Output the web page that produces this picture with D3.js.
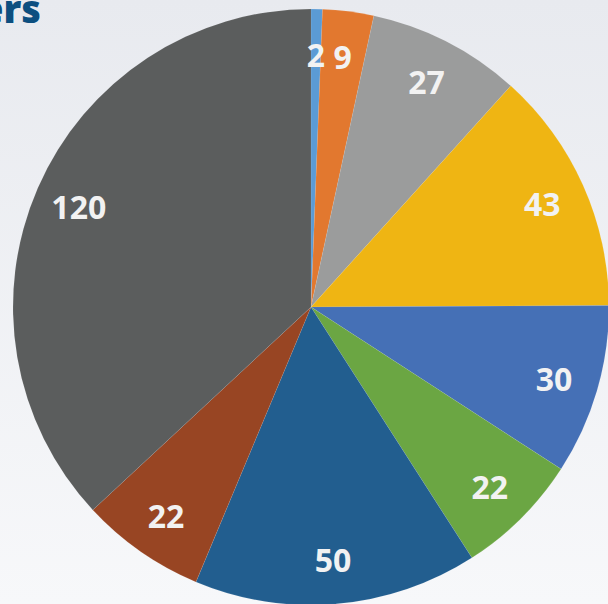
<!DOCTYPE html>
<html>
<head>
<meta charset="utf-8">
<script src="https://cdn.jsdelivr.net/npm/d3@7"></script>
<style>
  html, body { margin: 0; padding: 0; overflow: hidden; }
</style>
</head>
<body>
<div id="chart"></div>
<script>
// DATA //
const values = [2, 9, 27, 43, 30, 22, 50, 22, 120];
const colors = ["#5b9bd5", "#e2782f", "#9b9c9c", "#efb513", "#4570b6", "#6ba643", "#225e8f", "#984523", "#5b5d5d"];
const titleText = "ers";

// DIMENSIONS //
const width = 608, height = 604;
const cx = 311, cy = 307, radius = 298;

let svg = d3.select("#chart")
  .append("svg")
  .attr("width", width)
  .attr("height", height);

// background gradient
let grad = svg.append("defs").append("linearGradient")
  .attr("id", "bg")
  .attr("x1", 0).attr("y1", 0).attr("x2", 0).attr("y2", 1);
grad.append("stop").attr("offset", "0%").attr("stop-color", "#e8eaef");
grad.append("stop").attr("offset", "100%").attr("stop-color", "#f7f8fa");

svg.append("rect")
  .attr("width", width)
  .attr("height", height)
  .attr("fill", "url(#bg)");

// title (cropped at the left edge, as in the source)
svg.append("text")
  .attr("x", 41)
  .attr("y", 23)
  .attr("text-anchor", "end")
  .style("font-family", "'Open Sans', Lato, sans-serif")
  .style("font-weight", "800")
  .style("font-size", "38px")
  .style("fill", "#0c4f80")
  .text(titleText);

// PIE //
let pie = d3.pie().sort(null).value(d => d);
let arc = d3.arc().innerRadius(0).outerRadius(radius);
let labelArc = d3.arc().innerRadius(radius * 0.85).outerRadius(radius * 0.85);

let g = svg.append("g")
  .attr("transform", "translate(" + cx + "," + cy + ")");

g.selectAll("path")
  .data(pie(values))
  .enter()
  .append("path")
  .attr("d", arc)
  .attr("fill", (d, i) => colors[i])
  .attr("stroke", "#ffffff")
  .attr("stroke-opacity", 0.15)
  .attr("stroke-width", 0.5);

g.selectAll("text")
  .data(pie(values))
  .enter()
  .append("text")
  .attr("transform", d => "translate(" + labelArc.centroid(d) + ")")
  .attr("text-anchor", "middle")
  .attr("dy", "0.4em")
  .style("font-family", "'Open Sans', Lato, sans-serif")
  .style("font-weight", "700")
  .style("font-size", "32px")
  .style("fill", "#f2f2f2")
  .text(d => d.data);
</script>
</body>
</html>
